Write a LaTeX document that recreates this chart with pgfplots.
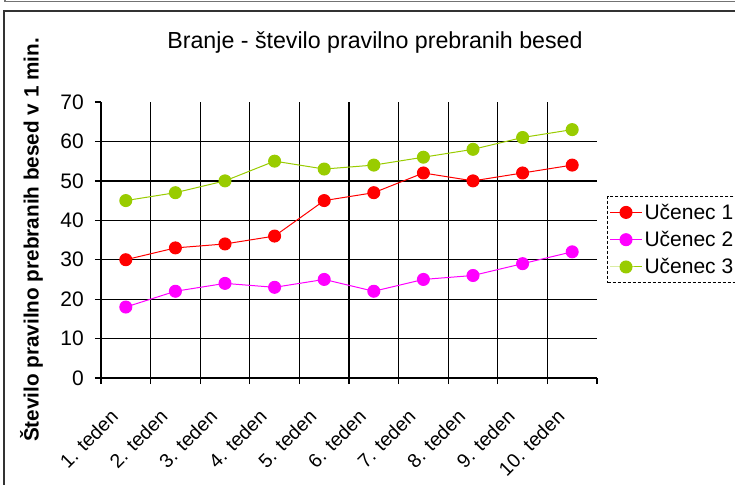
\documentclass[border=0pt]{standalone}
\usepackage{fontspec}
\setmainfont{Liberation Sans}
\usepackage{pgfplots}
\pgfplotsset{compat=1.18}
\definecolor{cRed}{RGB}{255,0,0}
\definecolor{cMag}{RGB}{255,0,255}
\definecolor{cGreen}{RGB}{153,204,0}
\begin{document}
\begin{tikzpicture}
\useasboundingbox (0pt,0pt) rectangle (735pt,-484pt);
\fill[white] (0pt,0pt) rectangle (735pt,-484pt);
\draw[line width=1.5pt, black!80] (4pt,-490pt) -- (4pt,-11pt) -- (740pt,-11pt);
\draw[line width=1.2pt, black!55] (5pt,3pt) -- (5pt,-1.5pt) -- (740pt,-1.5pt);
\begin{axis}[
  scale only axis, width=496pt, height=276pt,
  at={(101pt,-378pt)}, anchor=south west,
  xmin=0.5, xmax=10.5, ymin=0, ymax=70,
  axis x line*=bottom, axis y line*=left,
  axis line style={line width=1.3pt, black, -},
  tick align=outside,
  major tick length=6pt, minor tick length=6pt,
  every tick/.style={line width=1.3pt, black},
  xtick={0.5,1.5,...,9.5}, xticklabels={},
  minor xtick={10.5},
  extra x ticks={1,...,10},
  extra x tick labels={1. teden,2. teden,3. teden,4. teden,5. teden,6. teden,7. teden,8. teden,9. teden,10. teden},
  extra x tick style={grid=none, major tick length=0pt},
  ytick={0,10,...,60},
  extra y ticks={70},
  extra y tick style={grid=none},
  grid=major,
  major grid style={line width=1.3pt, black},
  /pgf/number format/assume math mode=true,
  xticklabel style={xshift=-16.5pt, yshift=-30pt, rotate=45, anchor=north east, inner sep=0pt, font=\fontsize{19.5}{23}\selectfont},
  yticklabel style={xshift=-11pt, anchor=east, inner sep=0pt, font=\fontsize{21}{25}\selectfont},
  title={Branje - število pravilno prebranih besed},
  title style={at={(axis description cs:0.5524,1.195)}, anchor=center, inner sep=0pt, font=\fontsize{23.2}{27}\selectfont},
  ylabel={Število pravilno prebranih besed v 1 min.},
  ylabel style={at={(axis description cs:-0.140,0.5)}, anchor=center, inner sep=0pt, font=\bfseries\fontsize{20.7}{24}\selectfont},
  legend style={at={(axis description cs:1.0202,0.6594)}, anchor=north west, draw=black, dash pattern=on 3pt off 2pt, line width=1pt, font=\fontsize{21}{25}\selectfont, inner xsep=2pt, inner ysep=5.5pt, row sep=6.5pt},
  legend cell align=left,
  legend image code/.code={\draw[solid, mark repeat=2, mark phase=2] plot coordinates {(0pt,0pt) (16pt,0pt) (32pt,0pt)};},
]
\addplot[color=cRed, solid, line width=1pt, mark=*, mark size=6pt, mark options={solid, fill=cRed}] coordinates {
(1,30) (2,33) (3,34) (4,36) (5,45) (6,47) (7,52) (8,50) (9,52) (10,54)};
\addplot[color=cMag, solid, line width=1pt, mark=*, mark size=6pt, mark options={solid, fill=cMag}] coordinates {
(1,18) (2,22) (3,24) (4,23) (5,25) (6,22) (7,25) (8,26) (9,29) (10,32)};
\addplot[color=cGreen, solid, line width=1pt, mark=*, mark size=6pt, mark options={solid, fill=cGreen}] coordinates {
(1,45) (2,47) (3,50) (4,55) (5,53) (6,54) (7,56) (8,58) (9,61) (10,63)};
\legend{Učenec 1\hspace{12pt}, Učenec 2\hspace{12pt}, Učenec 3\hspace{12pt}}
\end{axis}
\end{tikzpicture}
\end{document}
